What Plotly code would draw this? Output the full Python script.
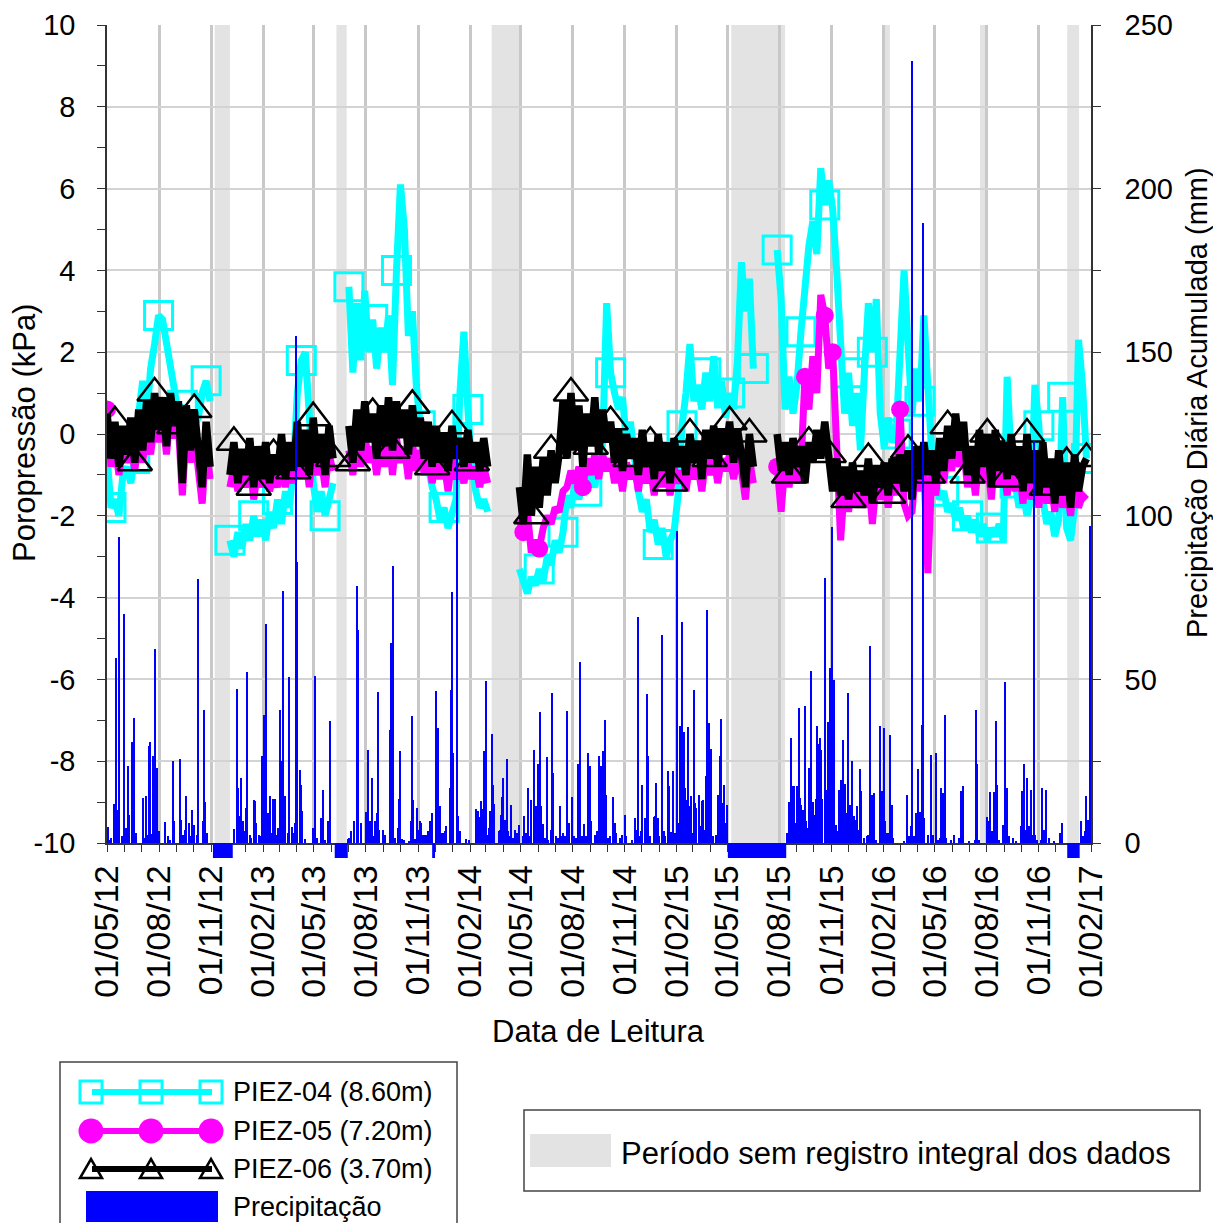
import plotly.graph_objects as go
import pandas as pd

START = "2012-05-01"
END = "2017-02-01"

# ---------------- piezometer readings, one value every 7 days from START (None = no reading)
piez04 = [
    -0.5, -1.8, -1.6, -2.0, -1.0, -0.8, -1.2, -0.6, 0.5, 1.3,
    0.4, 1.6, 2.2, 2.9, 2.8, 2.2, 1.6, 1.0, 0.5, 0.7,
    0.3, 0.5, 0.2, 0.4, 1.0, 1.3, 0.8, None, None, None,
    None, -2.6, -3.0, -2.4, -2.8, -2.2, -2.6, -2.0, -2.5, -2.1,
    -2.6, -1.9, -2.3, -1.6, -2.2, -1.4, -1.8, -0.8, 1.0, 1.8,
    2.0, 0.5, -1.2, -1.9, -1.4, -2.0, -1.6, -1.2, None, None,
    None, 3.6, 1.5, 3.2, 1.8, 3.5, 2.0, 2.8, 1.6, 2.6,
    2.0, 2.9, 1.2, 4.0, 6.1, 5.0, 2.4, 3.0, 1.2, 0.2,
    -0.4, -0.8, -1.3, -1.6, -2.1, -1.8, -2.3, -2.0, -1.6, 1.0,
    2.5, 0.6, -0.8, -1.4, -1.8, -1.6, -1.9, None, None, None,
    None, None, None, None, -3.3, -3.6, -3.9, -3.5, -3.7, -3.3,
    -3.6, -3.0, -3.2, -2.6, -2.9, -2.4, -1.5, -1.8, -1.2, -1.6,
    -1.1, -1.4, -1.0, -1.3, -0.8, -0.2, 3.2, 1.5, 1.0, 0.6,
    0.9, -0.2, 0.3, -0.6, -1.4, -1.9, -1.6, -2.4, -2.1, -2.7,
    -2.3, -3.0, -2.6, -2.4, -1.5, 0.2, 1.0, 2.2, 0.8, 1.2,
    0.6, 1.5, 0.8, 1.9, 0.7, 1.3, 0.4, 1.0, 0.6, 1.8,
    4.2, 3.0, 3.8, 1.6, None, None, None, None, None, 4.5,
    3.3, 0.6, 1.4, 0.5, 1.2, 2.5, 3.8, 4.6, 5.2, 4.4,
    6.5, 5.6, 6.2, 5.5, 4.0, 2.0, 0.5, 1.5, 0.2, 1.0,
    -0.4, 1.5, 3.2, 2.0, 3.3, 0.5, -0.3, 0.4, -0.2, 0.0,
    2.0, 4.0, 2.2, 0.5, 1.6, 0.8, 2.9, 1.2, -0.5, -1.2,
    -1.6, -1.4, -1.9, -1.7, -2.1, -1.8, -2.3, -2.0, -2.4, -2.1,
    -2.5, -2.2, -2.6, -2.3, -2.5, -2.2, -2.6, 1.4, -0.6, -1.2,
    -1.8, -1.4, -2.0, -1.6, 1.2, 0.2, -1.6, -2.2, -1.9, -2.5,
    -2.1, 0.9, -2.3, -2.6, -1.8, 2.3, 1.2, -0.6,
]

piez05 = [
    0.6, -0.8, -0.2, -1.0, -0.3, -0.7, -0.2, -0.9, -0.1, -0.7,
    0.2, -0.5, 0.3, -0.2, 0.4, -0.5, 0.5, -0.1, 0.2, -1.5,
    0.1, -0.7, 0.0, -0.9, -1.7, -0.3, -1.1, None, None, None,
    None, -1.3, -0.8, -1.4, -0.9, -1.3, -0.7, -1.6, -0.9, -1.3,
    -0.8, -1.4, -1.0, -1.3, -0.6, -1.3, -0.8, -1.2, -0.4, -1.1,
    -0.5, -1.3, -0.3, -1.0, -0.6, -1.3, -0.5, -0.9, None, None,
    None, -0.4, -1.0, -0.2, -0.8, 0.0, -0.7, -0.3, -1.0, -0.2,
    -0.8, 0.0, -1.0, -0.1, -0.7, -0.3, -1.1, -0.2, -0.9, -0.4,
    -1.0, -0.5, -1.2, -0.6, -1.1, -0.7, -1.4, -0.6, -1.1, -0.8,
    -1.2, -0.7, -1.1, -0.8, -1.3, -0.8, -1.2, None, None, None,
    None, None, None, None, -2.1, -2.4, -1.9, -2.9, -2.6, -2.8,
    -2.3, -2.0, -2.2, -1.8, -1.9, -1.4, -1.3, -0.9, -1.2, -0.8,
    -1.3, -0.6, -1.0, -0.5, -1.1, -0.5, -0.9, -0.6, -1.2, -0.7,
    -1.4, -0.7, -1.1, -0.8, -1.4, -0.7, -1.2, -0.8, -1.5, -0.7,
    -1.3, -0.8, -1.5, -0.8, -1.2, -0.9, -1.4, -0.7, -1.1, -0.8,
    -1.4, -0.6, -1.0, -0.5, -1.2, -0.6, -0.9, -0.5, -1.1, -0.6,
    -0.9, -1.6, -0.6, -1.2, None, None, None, None, None, -0.8,
    -1.9, -0.7, -1.3, -0.6, -1.2, -0.8, 1.4, 0.6, 1.9, 1.0,
    3.4, 2.9, 1.6, 2.0, -0.5, -2.6, -1.2, -1.9, -1.1, -1.8,
    -1.3, -1.8, -1.0, -2.2, -1.2, -1.6, -1.1, -1.8, -1.0, -1.5,
    0.6, -1.7, -2.0, -1.9, -0.8, -1.4, -0.7, -3.4, -0.9, -1.5,
    -0.6, -1.2, -0.4, -0.9, -0.2, -0.8, -0.3, -1.3, -0.7, -1.5,
    -0.5, -1.2, -0.6, -1.6, -0.5, -1.3, -0.7, -1.5, -0.6, -1.4,
    -0.8, -1.7, -0.6, -1.6, -0.9, -1.8, -0.8, -1.7, -1.1, -1.9,
    -1.0, -1.8, -1.3, -2.0, -1.1, -1.8, -1.5, -1.6,
]

piez06 = [
    0.5, -0.6, 0.3, -0.8, 0.2, -0.5, 0.4, -0.7, 0.6, -0.4,
    0.8, -0.2, 1.0, 0.1, 0.9, -0.3, 1.0, 0.2, 0.8, -1.2,
    0.7, -0.4, 0.6, -0.6, -1.3, 0.3, -0.8, None, None, None,
    None, -1.0, -0.2, -1.2, -0.4, -1.0, -0.1, -1.3, -0.3, -1.1,
    -0.2, -1.2, -0.5, -1.0, 0.0, -1.1, -0.2, -0.9, 0.3, -0.8,
    0.1, -1.0, 0.4, -0.7, 0.0, -1.0, 0.2, -0.6, None, None,
    None, 0.2, -0.7, 0.6, -0.4, 0.8, -0.2, 0.5, -0.6, 0.7,
    -0.3, 0.9, -0.4, 0.8, -0.1, 0.6, -0.5, 0.7, -0.3, 0.4,
    -0.6, 0.3, -0.8, 0.2, -0.7, 0.0, -0.9, 0.2, -0.6, -0.1,
    -0.8, 0.1, -0.7, -0.2, -0.9, -0.1, -0.8, None, None, None,
    None, None, None, None, -1.3, -2.2, -0.5, -2.0, -0.8, -1.8,
    -0.6, -1.5, -0.4, -1.2, -0.5, 0.8, -0.6, 1.0, -0.4, 0.7,
    -0.8, 0.5, -0.3, 0.9, -0.5, 0.6, -0.2, 0.3, -0.7, 0.1,
    -0.9, 0.0, -0.6, -0.1, -1.0, 0.1, -0.8, -0.2, -1.1, 0.0,
    -0.9, -0.2, -1.2, -0.1, -0.8, -0.3, -1.0, 0.0, -0.7, -0.2,
    -1.1, 0.1, -0.6, 0.2, -0.8, 0.1, -0.5, 0.3, -0.7, 0.1,
    -0.5, -1.3, 0.0, -0.8, None, None, None, None, None, 0.0,
    -0.9, -0.2, -1.0, -0.1, -0.8, -0.3, -1.2, -0.2, -0.7, 0.1,
    -0.6, 0.3, -0.5, -1.4, -0.6, -1.5, -0.8, -1.6, -0.7, -1.4,
    -0.9, -1.5, -0.6, -1.7, -0.8, -1.3, -0.7, -1.5, -0.6, -1.2,
    -0.5, -1.4, -0.4, -1.6, -0.3, -1.1, -0.2, -1.0, -0.4, -1.2,
    -0.1, -0.9, 0.2, -0.6, 0.5, -0.4, 0.3, -1.0, -0.3, -1.2,
    0.1, -0.8, 0.0, -1.3, 0.1, -0.9, -0.2, -1.1, 0.0, -1.0,
    -0.3, -1.4, 0.0, -1.2, -0.4, -1.5, -0.2, -1.3, -0.6, -1.7,
    -0.4, -1.5, -0.7, -1.8, -0.5, -1.4, -0.8, -0.6,
]

# weeks (index into the 7-day grid) where a PIEZ-05 symbol is drawn
piez05_marker_weeks = [0, 105, 109, 120, 169, 176, 181, 183, 200]

# ---------------- daily precipitation (day offset from START, mm)
precip_2012_2013 = [
    (1, 5), (3, 1), (8, 1.5), (12, 12), (14, 12), (16, 56.5), (20, 10), (21, 93.5), (27, 2), (31, 70),
    (33, 4.5), (37, 23.4), (39, 8.5), (44, 15), (45, 30.8), (47, 8.7), (48, 38.2), (52, 3), (63, 13.8),
    (66, 1.5), (69, 14.5), (72, 2.5), (74, 29.7), (76, 31), (79, 2.8), (82, 26.5), (84, 59.3), (86, 12),
    (88, 23), (89, 19), (92, 3.8), (103, 6.3), (108, 2.2), (112, 1), (117, 25), (119, 6.6), (129, 25.7),
    (131, 7), (135, 2.5), (138, 4), (140, 14.3), (144, 6), (148, 2), (151, 10), (154, 5.5), (159, 2.5),
    (160, 80.8), (170, 6.6), (172, 40.7), (173, 12.4), (176, 3),
    (225, 4.3), (229, 47), (231, 16.8), (233, 8.4), (237, 20), (240, 6.8), (243, 3.6), (246, 10.7),
    (248, 52.3), (252, 2.5), (255, 1.5), (260, 13.2), (262, 12.7), (264, 6), (268, 2.5), (270, 2),
    (273, 4), (274, 26.7), (277, 39.2), (279, 10.7), (280, 67), (284, 9.2), (286, 6), (288, 14.5),
    (291, 3), (294, 13.4), (296, 13.4), (299, 2.5), (302, 4.5), (305, 40.7), (307, 9.2), (309, 25),
    (311, 77), (315, 14.3), (319, 3), (321, 33.3), (322, 50.6), (326, 5), (330, 3), (332, 6), (334, 155),
    (335, 86), (340, 22.4), (342, 17.6), (344, 9.7), (350, 1.2), (364, 4.6), (367, 51.1), (370, 1.5),
    (377, 7.6), (379, 7), (381, 16.3), (385, 1), (390, 6.6), (393, 37.2),
    (426, 1.2), (427, 1.5), (431, 3.6), (437, 6.6), (441, 29.5), (442, 78.6), (444, 65.2), (448, 6),
    (458, 9.4), (460, 28.5), (462, 6), (465, 6.6), (468, 20), (471, 2), (474, 6.6), (477, 9.2), (479, 46),
    (481, 4), (488, 4), (491, 2.5), (500, 34.4), (502, 61), (505, 84.8), (508, 1.5), (513, 4.6),
    (516, 13.4), (518, 28), (521, 1.2), (524, 1), (534, 0.5), (536, 6.6), (538, 38.7), (540, 13.2),
    (544, 1.2), (547, 6.6), (548, 10.7), (551, 4), (553, 6.6), (555, 6), (558, 2.5), (561, 2.5),
    (563, 2.5), (567, 3.6), (570, 6.6), (571, 6.6), (573, 9.2),
]
precip_2014_2015 = [
    (581, 46.4), (584, 35), (588, 11.2), (592, 3), (594, 3), (597, 3.6), (598, 5.3), (605, 16.8),
    (607, 46.9), (610, 76.6), (611, 27.5), (618, 121.6), (620, 8.4), (623, 3.6), (633, 1.2), (640, 1),
    (651, 10.4), (655, 9.7), (657, 8.1), (661, 12.7), (662, 10.4), (665, 28.2), (667, 5), (670, 49.6),
    (673, 2.5), (675, 4.6), (677, 9.9), (679, 33.3), (681, 17.8), (683, 12), (692, 3.6), (694, 4.1),
    (696, 8.7), (698, 14), (699, 19.9), (702, 7.1), (706, 25.7), (708, 3.6), (711, 2), (714, 11.7),
    (717, 1.5), (720, 4.1), (723, 3), (727, 5.6), (734, 2.2), (737, 8.4), (740, 3), (743, 16.8), (746, 2),
    (749, 13.2), (753, 28.5), (758, 11.2), (761, 24), (764, 40), (765, 38.2), (767, 11.2), (770, 5.9),
    (774, 1.5), (776, 26.2), (778, 1), (783, 4.1), (785, 45.8), (788, 21.4), (792, 2), (796, 1.5),
    (799, 11.2), (801, 2), (805, 3), (808, 2), (812, 40.4), (815, 6.1), (821, 14), (825, 2), (828, 1.5),
    (831, 24.1), (833, 4.6), (835, 55.2), (839, 2), (843, 5.9), (846, 2), (850, 27.5), (852, 23.6),
    (855, 6.6), (861, 2.5), (865, 3.6), (869, 26.7), (871, 6.6), (873, 23.4), (876, 28), (879, 37.7),
    (881, 14.8), (884, 1.5), (888, 2), (893, 14), (896, 6.1), (898, 3), (905, 1.5), (910, 2.5),
    (914, 8.7), (916, 2), (926, 1), (932, 7.6), (934, 4.1), (937, 69), (940, 2), (943, 3.6), (945, 17.8),
    (949, 7.6), (953, 45.5), (955, 26.5), (959, 2), (965, 8.1), (966, 6.6), (968, 8.4), (970, 18.3),
    (972, 7.6), (975, 2), (979, 63.7), (983, 3.6), (985, 2), (990, 21.9), (992, 17.3), (996, 3.3),
    (1000, 21.9), (1003, 3), (1006, 95.3), (1007, 44), (1009, 6.1), (1012, 35.7), (1015, 5.9),
    (1016, 67.5), (1018, 34), (1020, 16.8), (1022, 13.2), (1025, 35.5), (1026, 31.6), (1029, 11.2),
    (1031, 14.3), (1034, 3), (1036, 46.9), (1038, 12.2), (1040, 10.6), (1046, 14.8), (1047, 5.1),
    (1050, 12.7), (1052, 13.2), (1054, 4.1), (1057, 20.6), (1059, 17.3), (1060, 71.3), (1062, 36.7),
    (1064, 4.1), (1067, 28.7), (1070, 2), (1076, 2.5), (1079, 14.8), (1081, 3.6), (1083, 26.7),
    (1084, 37.9), (1087, 12.2), (1090, 17.8), (1092, 6.1), (1094, 11.7), (1095, 2.5),
]
precip_2015_2017 = [
    (1201, 3), (1204, 12.4), (1208, 32), (1210, 17.3), (1212, 17.3), (1216, 6.1), (1218, 17.3),
    (1221, 41.3), (1223, 13.8), (1226, 11.7), (1229, 10.2), (1232, 41.8), (1234, 6.6), (1237, 4.6),
    (1240, 23), (1242, 52.5), (1245, 9.9), (1247, 12.4), (1250, 8.7), (1251, 13.4), (1253, 35.7),
    (1255, 30.3), (1257, 29), (1259, 32), (1261, 28.5), (1263, 13.4), (1267, 81), (1268, 4.1),
    (1271, 16.3), (1273, 37), (1276, 32.6), (1277, 53.5), (1280, 96.6), (1282, 5.1), (1284, 49.9),
    (1287, 5.6), (1289, 3.6), (1293, 16.3), (1295, 19.4), (1297, 12.2), (1299, 31.4), (1302, 18),
    (1305, 6.6), (1307, 9.2), (1309, 45.8), (1312, 11.7), (1314, 7.7), (1316, 25), (1319, 8.4),
    (1322, 7.1), (1324, 11.2), (1326, 4.1), (1329, 22.6), (1331, 15.8), (1337, 1.5), (1341, 2.2),
    (1344, 2.5), (1347, 60.1), (1351, 14.8), (1354, 15.3), (1358, 1), (1364, 15.3), (1365, 35.7),
    (1367, 13.2), (1369, 15.8), (1371, 35.1), (1373, 6.6), (1377, 3), (1378, 3), (1382, 33.1),
    (1385, 11.7), (1387, 1.5), (1407, 0.5), (1412, 14.8), (1416, 2), (1419, 5.3), (1421, 5.1),
    (1422, 239), (1425, 2), (1428, 9.2), (1431, 22.6), (1432, 4.6), (1435, 9.4), (1437, 7.1),
    (1439, 36.2), (1440, 37.7), (1441, 189.5), (1443, 7.6), (1450, 2.5), (1454, 27), (1455, 17.6),
    (1458, 2.5), (1464, 27.5), (1467, 1), (1470, 1.5), (1473, 16.8), (1475, 15.3), (1480, 39.2),
    (1482, 1.5), (1490, 1), (1496, 2.5), (1504, 1.5), (1507, 15.8), (1509, 15.8), (1512, 17.5),
    (1522, 0.5), (1532, 1), (1534, 40.7), (1536, 24), (1540, 1), (1554, 8.1), (1555, 6.6), (1558, 15.5),
    (1559, 2.5), (1563, 3.6), (1565, 15.5), (1567, 6.1), (1569, 37.2), (1571, 17.8), (1574, 1),
    (1581, 5.6), (1585, 49.2), (1586, 28.5), (1588, 16.8), (1593, 2), (1599, 1.5), (1605, 0.5),
    (1613, 5.1), (1615, 15.8), (1618, 24.1), (1619, 9.2), (1622, 4.1), (1625, 19.9), (1627, 5.3),
    (1631, 16.3), (1633, 2.5), (1635, 2), (1637, 123), (1639, 2.5), (1642, 1), (1648, 1), (1651, 16.8),
    (1654, 4.1), (1656, 3.6), (1658, 16.3), (1663, 1.5), (1672, 0.5), (1683, 3), (1686, 6),
    (1720, 6.6), (1723, 2), (1726, 3.6), (1729, 14.5), (1731, 7), (1733, 1.5), (1735, 97),
]

# periods without complete data record (grey bands)
gap_start = ["2012-11-07", "2013-06-10", "2014-03-11", "2015-05-08", "2016-02-01", "2016-07-20", "2016-12-21"]
gap_end = ["2012-12-04", "2013-06-28", "2014-05-01", "2015-08-11", "2016-02-12", "2016-07-30", "2017-01-11"]
# periods without precipitation record (blue strips under the axis)
pgap_start = ["2012-11-04", "2013-06-07", "2013-11-26", "2015-05-02", "2016-12-21"]
pgap_end = ["2012-12-09", "2013-06-30", "2013-12-01", "2015-08-13", "2017-01-12"]

left_ticks = [-10, -8, -6, -4, -2, 0, 2, 4, 6, 8, 10]
series_names = ["PIEZ-04 (8.60m)", "PIEZ-05 (7.20m)", "PIEZ-06 (3.70m)", "Precipitação"]
gap_label = "Período sem registro integral dos dados"

# ---------------------------------------------------------------------------
CYAN, MAG, BLK, BLUE, GREY = "#00FFFF", "#FF00FF", "#000000", "#0000FF", "#E3E3E3"
FONT = "Liberation Sans, Arial, sans-serif"

start = pd.Timestamp(START)
dates = pd.date_range(START, periods=len(piez04), freq="7D")
precip = precip_2012_2013 + precip_2014_2015 + precip_2015_2017
p_dates = [start + pd.Timedelta(days=d) for d, _ in precip]
p_vals = [v for _, v in precip]

fig = go.Figure()


def add_series(vals, color, symbol, msize, mline, idx, lw):
    fig.add_trace(go.Scatter(x=dates, y=vals, mode="lines", line=dict(color=color, width=lw),
                             connectgaps=False, hoverinfo="skip"))
    idx = [i for i in idx if vals[i] is not None]
    fig.add_trace(go.Scatter(
        x=[dates[i] for i in idx], y=[vals[i] for i in idx], mode="markers",
        marker=dict(symbol=symbol, size=msize, color=color,
                    line=dict(color=color, width=mline)),
        hoverinfo="skip"))


add_series(piez04, CYAN, "square-open", 28, 3, range(1, len(piez04), 6), 7)
add_series(piez05, MAG, "circle", 18, 0, piez05_marker_weeks, 7)
add_series(piez06, BLK, "triangle-up-open", 30, 2.5, range(2, len(piez06), 5), 7.5)

fig.add_trace(go.Bar(x=p_dates, y=p_vals, yaxis="y2", width=2 * 86400000,
                     marker=dict(color=BLUE, line=dict(width=0)), hoverinfo="skip"))


# reference-image pixel -> paper coordinates (plot area 107..1091 x 25..843)
def px(x):
    return (x - 107) / 984


def py(y):
    return (843 - y) / 818


shapes = []
for s, e in zip(gap_start, gap_end):
    shapes.append(dict(type="rect", xref="x", yref="paper", x0=s, x1=e, y0=0, y1=1,
                       fillcolor=GREY, line=dict(width=0), layer="below"))
for s, e in zip(pgap_start, pgap_end):
    shapes.append(dict(type="rect", xref="x", yref="paper", x0=s, x1=e, y0=0, y1=py(858),
                       fillcolor=BLUE, line=dict(width=0), layer="above"))

# ---- legend (left box)
shapes.append(dict(type="rect", xref="paper", yref="paper", x0=px(60), x1=px(457), y0=py(1062), y1=py(1245),
                   line=dict(color="#444444", width=1.5), fillcolor="rgba(0,0,0,0)"))
rows = [1092, 1131, 1169, 1207]
mx = [91, 151, 211]
for ry, col in zip(rows[:3], [CYAN, MAG, BLK]):
    shapes.append(dict(type="line", xref="paper", yref="paper", x0=px(92), x1=px(212), y0=py(ry), y1=py(ry),
                       line=dict(color=col, width=6)))
for cx in mx:
    shapes.append(dict(type="rect", xref="paper", yref="paper", xsizemode="pixel", ysizemode="pixel",
                       xanchor=px(cx), yanchor=py(rows[0]), x0=-11, x1=11, y0=-11, y1=11,
                       line=dict(color=CYAN, width=3), fillcolor="rgba(0,0,0,0)"))
    shapes.append(dict(type="circle", xref="paper", yref="paper", xsizemode="pixel", ysizemode="pixel",
                       xanchor=px(cx), yanchor=py(rows[1]), x0=-12.5, x1=12.5, y0=-12.5, y1=12.5,
                       line=dict(color=MAG, width=0), fillcolor=MAG))
    shapes.append(dict(type="path", xref="paper", yref="paper", xsizemode="pixel", ysizemode="pixel",
                       xanchor=px(cx), yanchor=py(rows[2]), path="M -11,-9 L 11,-9 L 0,10 Z",
                       line=dict(color=BLK, width=2.5), fillcolor="rgba(0,0,0,0)"))
shapes.append(dict(type="rect", xref="paper", yref="paper", x0=px(86), x1=px(218), y0=py(1222), y1=py(1191),
                   fillcolor=BLUE, line=dict(width=0)))
# ---- legend (right box)
shapes.append(dict(type="rect", xref="paper", yref="paper", x0=px(524), x1=px(1200), y0=py(1191), y1=py(1110),
                   line=dict(color="#444444", width=1.5), fillcolor="rgba(0,0,0,0)"))
shapes.append(dict(type="rect", xref="paper", yref="paper", x0=px(530), x1=px(611), y0=py(1167), y1=py(1134),
                   fillcolor=GREY, line=dict(width=0)))

annotations = []
for name, ry in zip(series_names, rows):
    annotations.append(dict(text=name, xref="paper", yref="paper", x=px(231), y=py(ry), xanchor="left",
                            yanchor="middle", showarrow=False, font=dict(size=27, family=FONT, color="black")))
annotations.append(dict(text=gap_label, xref="paper", yref="paper", x=px(619), y=py(1153), xanchor="left",
                        yanchor="middle", showarrow=False, font=dict(size=31, family=FONT, color="black")))
annotations.append(dict(text="Data de Leitura", xref="paper", yref="paper", x=px(598), y=py(1031),
                        xanchor="center", yanchor="middle", showarrow=False,
                        font=dict(size=31, family=FONT, color="black")))
annotations.append(dict(text="Poropressão (kPa)", xref="paper", yref="paper", x=px(24), y=py(433),
                        xanchor="center", yanchor="middle", textangle=-90, showarrow=False,
                        font=dict(size=31, family=FONT, color="black")))
annotations.append(dict(text="Precipitação Diária Acumulada (mm)", xref="paper", yref="paper", x=px(1197),
                        y=py(403), xanchor="center", yanchor="middle", textangle=-90, showarrow=False,
                        font=dict(size=29, family=FONT, color="black")))

# page body has an 8px margin: figure is sized/placed so the plot area lands at 107..1091 x 25..843
fig.update_layout(
    width=1213, height=1215,
    margin=dict(l=99, r=130, t=17, b=380, autoexpand=False),
    plot_bgcolor="white", paper_bgcolor="white",
    showlegend=False, bargap=0,
    font=dict(family=FONT, color="black"),
    shapes=shapes, annotations=annotations,
    xaxis=dict(type="date", range=[START, END], tick0=START, dtick="M3", tickformat="%d/%m/%y",
               tickangle=-90, tickfont=dict(size=34), showgrid=True, gridcolor="#C8C8C8", gridwidth=2.5,
               ticks="outside", ticklen=7, tickcolor="#333333", showline=True, linecolor="#333333",
               linewidth=1.5, zeroline=False, automargin=False,
               minor=dict(dtick="M1", ticks="outside", ticklen=7, tickcolor="#333333", showgrid=False)),
    yaxis=dict(range=[-10, 10], tickmode="array", tickvals=left_ticks,
               ticktext=[str(v) for v in left_ticks], tickfont=dict(size=29), showgrid=True,
               gridcolor="#D3D3D3", gridwidth=2, zeroline=False, ticks="outside", ticklen=8,
               tickcolor="#333333", showline=True, linecolor="#333333", linewidth=1.5, automargin=False,
               ticklabelstandoff=16,
               minor=dict(dtick=1, tick0=0, ticks="outside", ticklen=8, tickcolor="#333333", showgrid=False)),
    yaxis2=dict(overlaying="y", side="right", range=[0, 250], dtick=50, tickfont=dict(size=29),
                showgrid=False, zeroline=False, ticks="outside", ticklen=8, tickcolor="#333333",
                showline=True, linecolor="#333333", linewidth=1.5, automargin=False, ticklabelstandoff=18,
                minor=dict(dtick=25, ticks="outside", ticklen=8, tickcolor="#333333", showgrid=False)),
)

fig.write_html("out.html")
